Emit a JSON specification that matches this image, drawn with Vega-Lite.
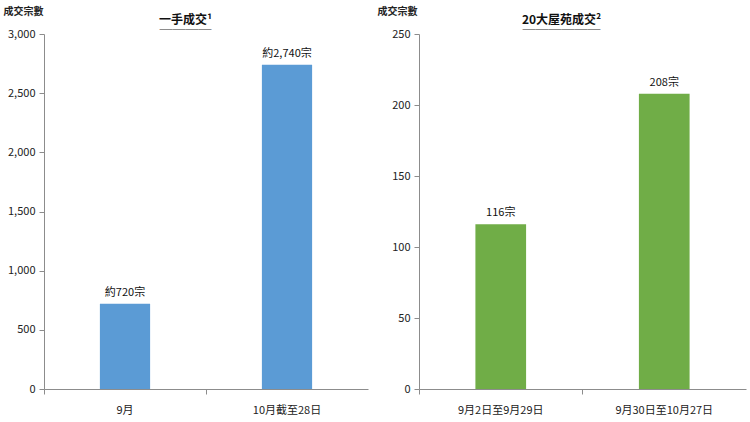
{
  "$schema": "https://vega.github.io/schema/vega-lite/v6.json",
  "background": "white",
  "padding": {"left": 3, "top": 6, "right": 4, "bottom": 0},
  "spacing": 9,
  "config": {
    "view": {"stroke": null},
    "font": "Noto Sans CJK TC",
    "axis": {
      "domainColor": "#8c8c8c",
      "tickColor": "#8c8c8c",
      "tickSize": 5,
      "labelColor": "#222222",
      "labelFont": "Noto Sans CJK TC",
      "labelFontSize": 11,
      "grid": false
    },
    "title": {
      "font": "Noto Sans CJK TC",
      "fontSize": 12,
      "fontWeight": "bold",
      "color": "#111111",
      "frame": "bounds",
      "anchor": "middle",
      "offset": -32,
      "subtitleFont": "Noto Sans CJK TC",
      "subtitleFontSize": 13,
      "subtitleColor": "#333333",
      "subtitlePadding": -3
    }
  },
  "datasets": {
    "firsthand": [
      {"period": "9月", "deals": 720, "label": "約720宗"},
      {"period": "10月截至28日", "deals": 2740, "label": "約2,740宗"}
    ],
    "estates": [
      {"period": "9月2日至9月29日", "deals": 116, "label": "116宗"},
      {"period": "9月30日至10月27日", "deals": 208, "label": "208宗"}
    ]
  },
  "hconcat": [
    {
      "width": 324,
      "height": 355,
      "title": {"text": "一手成交¹", "subtitle": "────"},
      "data": {"name": "firsthand"},
      "encoding": {
        "x": {
          "field": "period",
          "type": "nominal",
          "sort": null,
          "title": null,
          "scale": {"paddingInner": 0, "paddingOuter": 0},
          "axis": {"labelAngle": 0, "labelPadding": 10, "bandPosition": 0}
        },
        "y": {
          "field": "deals",
          "type": "quantitative",
          "scale": {"domain": [0, 3000]},
          "axis": {
            "values": [0, 500, 1000, 1500, 2000, 2500, 3000],
            "format": ",d",
            "labelPadding": 4,
            "title": "成交宗數",
            "titleAngle": 0,
            "titleAlign": "left",
            "titleBaseline": "middle",
            "titleX": -41,
            "titleY": -23,
            "titleFontSize": 10,
            "titleFontWeight": "bold",
            "titleColor": "#222222"
          }
        }
      },
      "layer": [
        {"mark": {"type": "bar", "color": "#5b9bd5", "width": {"band": 0.31}}},
        {
          "mark": {"type": "text", "baseline": "bottom", "dy": -6, "fontSize": 11, "color": "#111111"},
          "encoding": {"text": {"field": "label"}}
        }
      ]
    },
    {
      "width": 327,
      "height": 355,
      "title": {"text": "20大屋苑成交²", "subtitle": "──────"},
      "data": {"name": "estates"},
      "encoding": {
        "x": {
          "field": "period",
          "type": "nominal",
          "sort": null,
          "title": null,
          "scale": {"paddingInner": 0, "paddingOuter": 0},
          "axis": {"labelAngle": 0, "labelPadding": 10, "bandPosition": 0}
        },
        "y": {
          "field": "deals",
          "type": "quantitative",
          "scale": {"domain": [0, 250]},
          "axis": {
            "values": [0, 50, 100, 150, 200, 250],
            "labelPadding": 4,
            "title": "成交宗數",
            "titleAngle": 0,
            "titleAlign": "left",
            "titleBaseline": "middle",
            "titleX": -42,
            "titleY": -23,
            "titleFontSize": 10,
            "titleFontWeight": "bold",
            "titleColor": "#222222"
          }
        }
      },
      "layer": [
        {"mark": {"type": "bar", "color": "#70ad47", "width": {"band": 0.31}}},
        {
          "mark": {"type": "text", "baseline": "bottom", "dy": -6, "fontSize": 11, "color": "#111111"},
          "encoding": {"text": {"field": "label"}}
        }
      ]
    }
  ]
}
